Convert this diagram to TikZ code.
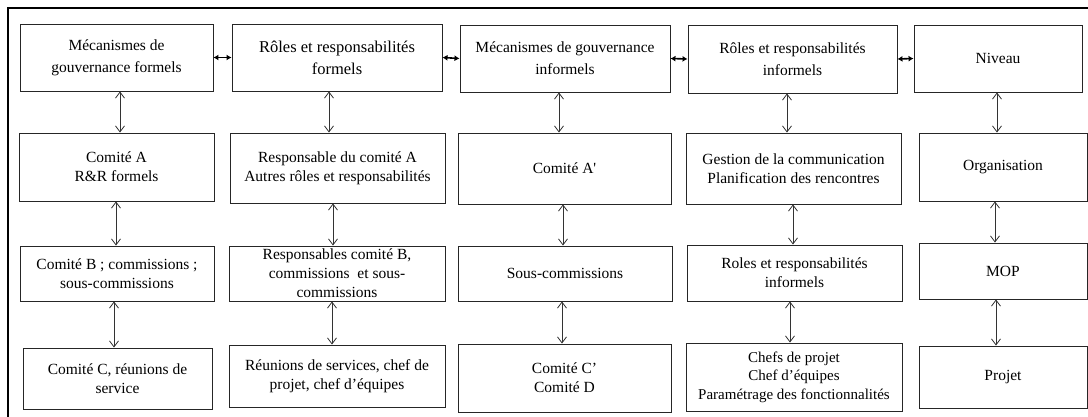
\documentclass[tikz,border=0pt]{standalone}
\usepackage{fontspec}
\setmainfont{Liberation Serif}
\usetikzlibrary{arrows.meta}

% \cell[style]{name}{x1}{y1}{x2}{y2}{text}: a framed box given by its corners
\newcommand\cell[7][]{%
  \node[box, #1,
        minimum width={(#5-#3)*1pt}, minimum height={(#6-#4)*1pt}]
    (#2) at ({(#3+#5)/2},{(#4+#6)/2}) {#7};}

\begin{document}
\begin{tikzpicture}[x=1pt, y=-1pt,
  box/.style={draw=black!85, line width=0.9pt, inner sep=0pt, align=center,
              font=\fontsize{15.5}{19}\selectfont},
  head/.style={font=\fontsize{15.5}{22}\selectfont},
  vlink/.style={draw=black!80, line width=0.8pt,
                {Straight Barb[length=6pt,width=9pt]}-{Straight Barb[length=6pt,width=9pt]}},
  hlink/.style={draw=black, line width=1.6pt,
                {Latex[length=5pt,width=6pt]}-{Latex[length=5pt,width=6pt]}},
  frame/.style={draw=black, line width=1.3pt}
]
\useasboundingbox (0,0) rectangle (1088,417);

% outer frame (top and left sides)
\draw[frame] (8,417) -- (8,8) -- (1088,8);

% row 1: headings
\cell[head]{A1}{20}{24}{213}{91}{Mécanismes de\\gouvernance formels}
\cell[head, font=\fontsize{16.5}{22}\selectfont]{B1}{232}{24}{442}{91}{Rôles et responsabilités\\formels}
\cell[head]{C1}{460}{25}{670}{92}{Mécanismes de gouvernance\\informels}
\cell[head]{D1}{688}{25}{897}{93}{Rôles et responsabilités\\informels}
\cell[head]{E1}{914}{25}{1082}{92}{Niveau}

% row 2
\cell{A2}{19}{133}{214}{201}{Comité A\\R\&R formels}
\cell{B2}{230}{133}{445}{203}{Responsable du comité A\\Autres rôles et responsabilités}
\cell{C2}{458}{133}{671}{204}{Comité A\textquotesingle}
\cell{D2}{686}{133}{901}{204}{Gestion de la communication\\Planification des rencontres}
\cell{E2}{919}{133}{1087}{201}{Organisation}

% row 3
\cell{A3}{20}{246}{214}{301}{Comité B ; commissions ;\\sous-commissions}
\cell{B3}{229}{246}{445}{301}{Responsables comité B,\\commissions\ \ et sous-\\commissions}
\cell{C3}{458}{246}{672}{301}{Sous-commissions}
\cell{D3}{687}{245}{902}{301}{Roles et responsabilités\\informels}
\cell{E3}{919}{243}{1087}{299}{MOP}

% row 4
\cell{A4}{23}{348}{212}{409}{Comité C, réunions de\\service}
\cell{B4}{229}{345}{445}{407}{Réunions de services, chef de\\projet, chef d’équipes}
\cell{C4}{458}{344}{671}{412}{Comité C’\\Comité D}
\cell[font=\fontsize{15}{18.5}\selectfont]{D4}{686}{343}{902}{411}{Chefs de projet\\Chef d’équipes\\Paramétrage des fonctionnalités}
\cell{E4}{919}{346}{1087}{408}{Projet}

% links between the headings
\draw[hlink] (A1.east) -- (B1.west);
\draw[hlink] (B1.east) -- (C1.west);
\draw[hlink] (C1.east) -- (D1.west);
\draw[hlink] (D1.east) -- (E1.west);

% x positions of the vertical links
\coordinate (xA12) at (120,0);  \coordinate (xA23) at (116,0);  \coordinate (xA34) at (114,0);
\coordinate (xB12) at (329,0);  \coordinate (xB23) at (333,0);  \coordinate (xB34) at (332,0);
\coordinate (xC12) at (559,0);  \coordinate (xC23) at (563,0);  \coordinate (xC34) at (562,0);
\coordinate (xD12) at (787,0);  \coordinate (xD23) at (793,0);  \coordinate (xD34) at (790,0);
\coordinate (xE12) at (997,0);  \coordinate (xE23) at (995,0);  \coordinate (xE34) at (996,0);

\foreach \c in {A,B,C,D,E}{
  \draw[vlink] (\c1.south -| x\c12) -- (\c2.north -| x\c12);
  \draw[vlink] (\c2.south -| x\c23) -- (\c3.north -| x\c23);
  \draw[vlink] (\c3.south -| x\c34) -- (\c4.north -| x\c34);
}
\end{tikzpicture}
\end{document}
